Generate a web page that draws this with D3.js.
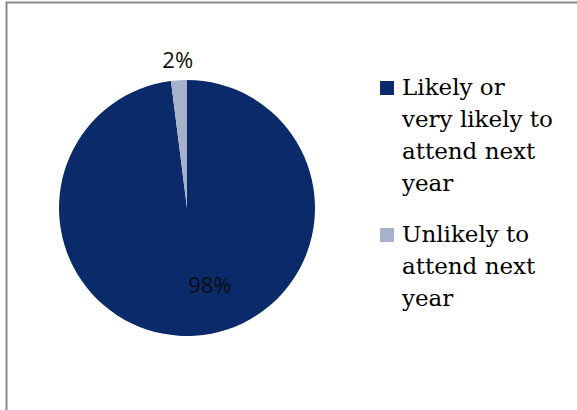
<!DOCTYPE html>
<html><head><meta charset="utf-8">
<script src="https://cdn.jsdelivr.net/npm/d3@7"></script>
<style>html,body{margin:0;padding:0;background:#fff;}svg{display:block;}</style>
</head><body>
<svg id="c" width="577" height="410"></svg>
<script>
const categories = ["Likely or very likely to attend next year", "Unlikely to attend next year"];
const legendLines = [["Likely or", "very likely to", "attend next", "year"], ["Unlikely to", "attend next", "year"]];
const values = [98, 2];
const labels = ["98%", "2%"];
const colors = ["#0b2a6a", "#a6b1cb"];

const svg = d3.select("#c");
svg.append("rect").attr("x", 6.5).attr("y", 2.5).attr("width", 580).attr("height", 420)
  .attr("fill", "#fff").attr("stroke", "#8a8a8a").attr("stroke-width", 2);

const cx = 187, cy = 208, r = 128;
const pie = d3.pie().sort(null).value(d => d);
const arcs = pie(values);
const arc = d3.arc().innerRadius(0).outerRadius(r);
const g = svg.append("g").attr("transform", `translate(${cx},${cy})`);
g.selectAll("path").data(arcs).enter().append("path")
  .attr("d", arc).attr("fill", (d, i) => colors[i]);

const labelPos = (d, i) => {
  if (i === 0) {
    const a = 163.6 * Math.PI / 180, rr = 81;
    return [Math.sin(a) * rr, -Math.cos(a) * rr];
  }
  const a = (d.startAngle + d.endAngle) / 2, rr = r + 20;
  return [Math.sin(a) * rr, -Math.cos(a) * rr];
};
g.selectAll("text.lbl").data(arcs).enter().append("text")
  .attr("class", "lbl")
  .attr("x", (d, i) => labelPos(d, i)[0])
  .attr("y", (d, i) => labelPos(d, i)[1])
  .attr("dy", "0.35em")
  .attr("text-anchor", "middle")
  .attr("font-family", "'Open Sans', 'Liberation Sans', sans-serif")
  .attr("font-size", 22)
  .attr("fill", "#0d0d0d")
  .text((d, i) => labels[i]);

const lg = svg.append("g").attr("transform", "translate(380,0)");
const lineH = 32;
const entryY = [95, 242];
categories.forEach((c, i) => {
  const y0 = entryY[i];
  lg.append("rect").attr("x", 0).attr("y", y0 - 14).attr("width", 14).attr("height", 14)
    .attr("fill", colors[i]);
  const t = lg.append("text").attr("font-family", "'DejaVu Serif', 'Liberation Serif', serif")
    .attr("font-size", 23).attr("fill", "#000");
  legendLines[i].forEach((ln, j) => {
    t.append("tspan").attr("x", 22).attr("y", y0 + j * lineH).text(ln);
  });
});
</script>
</body></html>
